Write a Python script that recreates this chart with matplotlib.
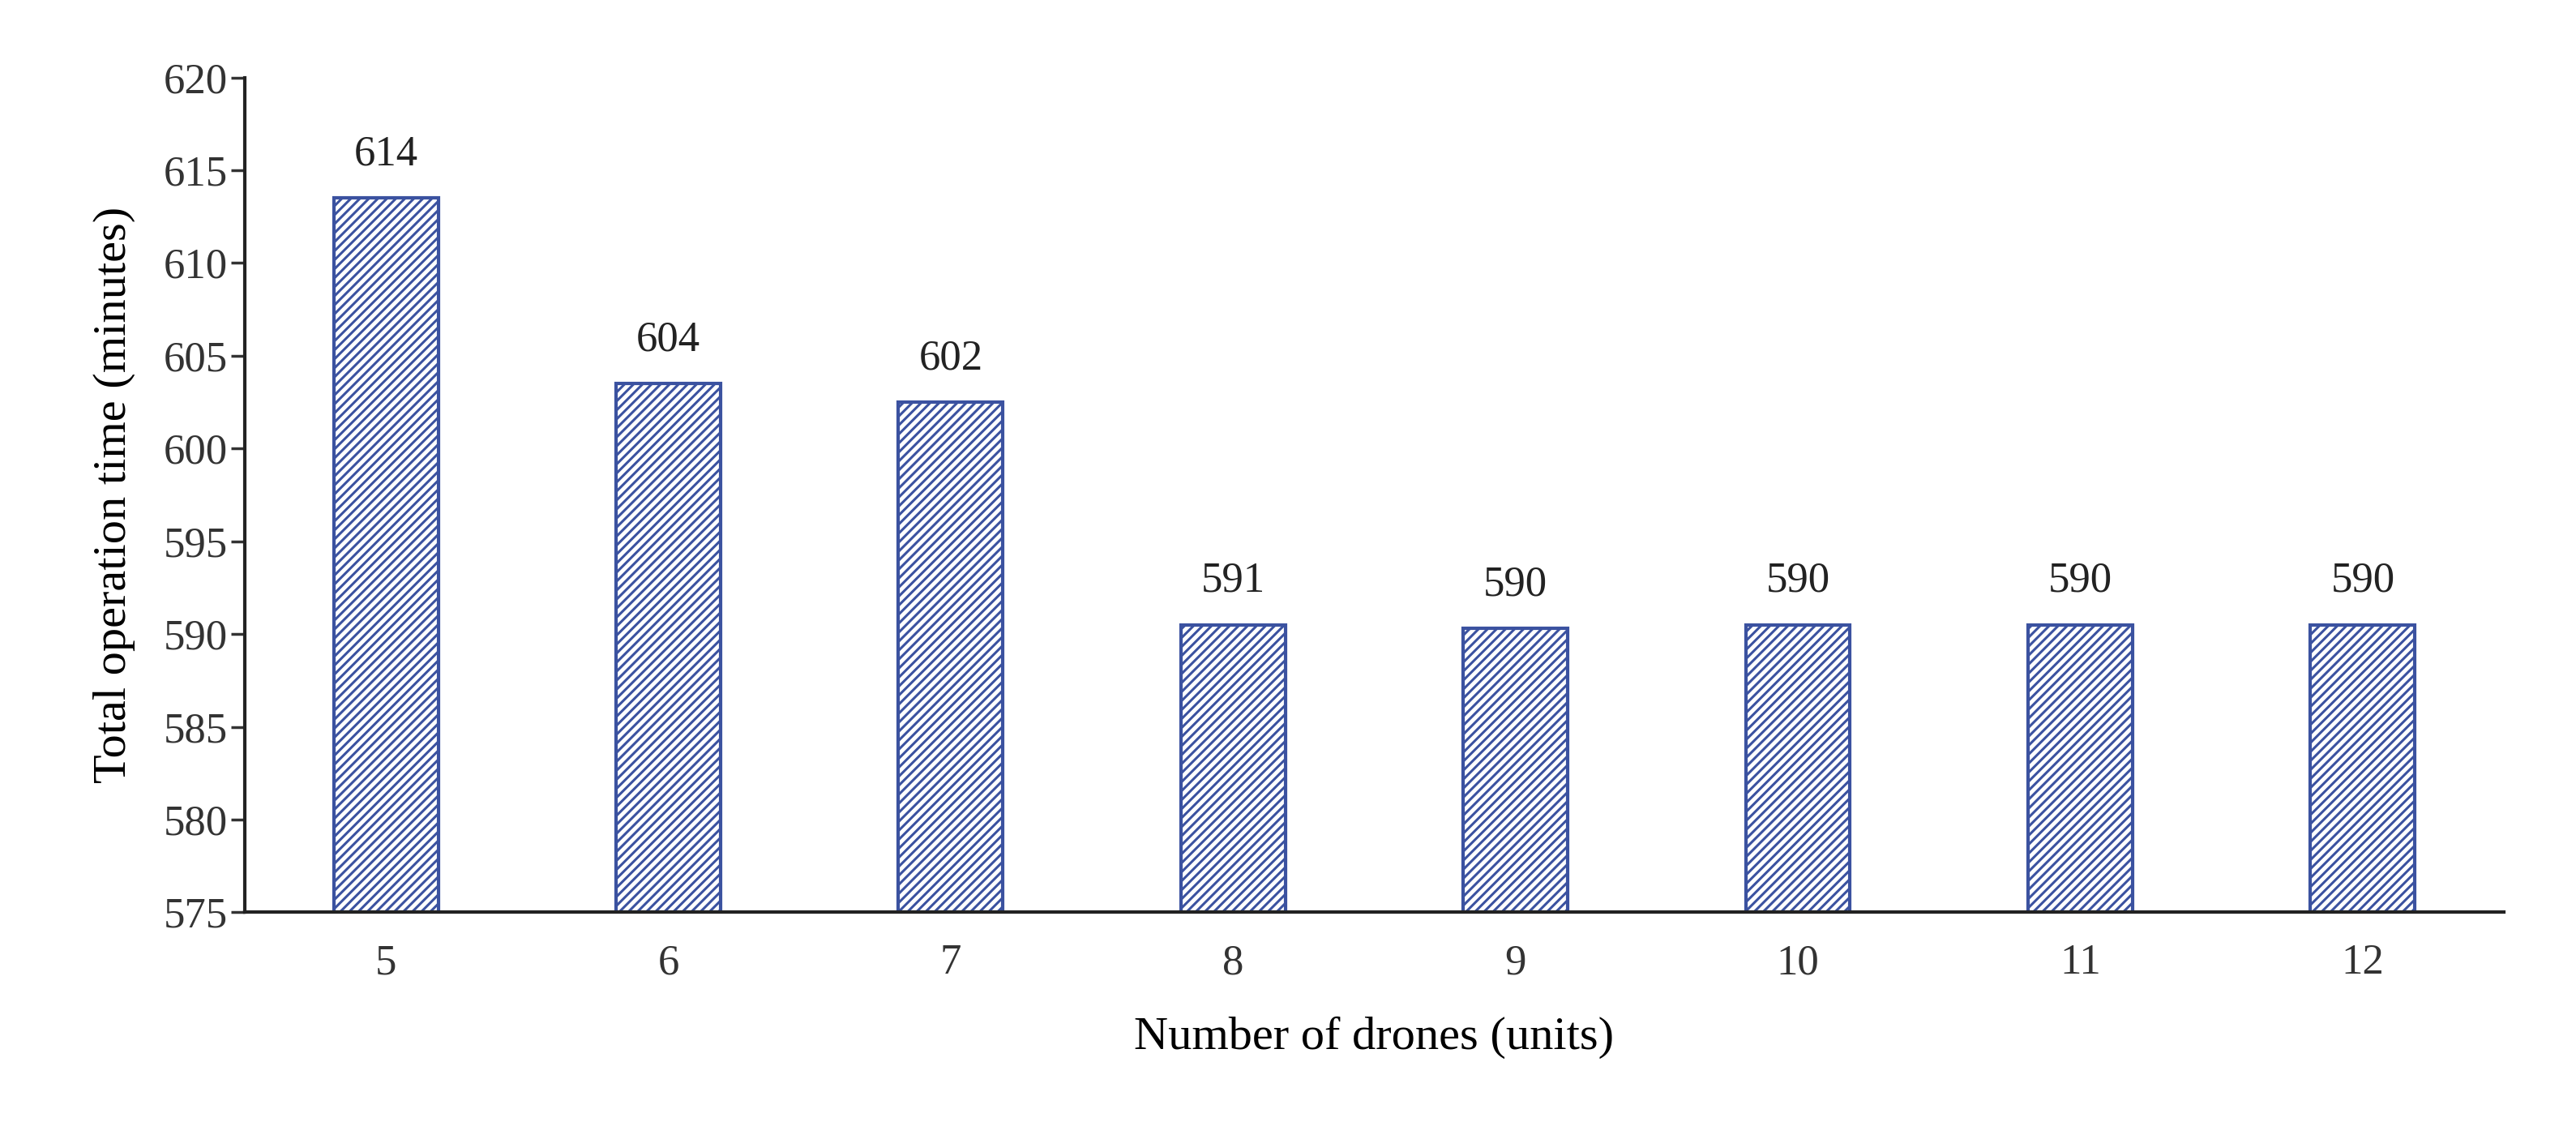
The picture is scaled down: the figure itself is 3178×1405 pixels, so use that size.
import matplotlib
matplotlib.use('Agg')
import matplotlib.pyplot as plt

drones = ['5', '6', '7', '8', '9', '10', '11', '12']
heights = [613.5, 603.5, 602.5, 590.5, 590.3, 590.5, 590.5, 590.5]
labels = ['614', '604', '602', '591', '590', '590', '590', '590']
yticks = list(range(575, 621, 5))

plt.rcParams['font.family'] = ['Liberation Serif', 'DejaVu Serif']
plt.rcParams['hatch.linewidth'] = 2.2
plt.rcParams['hatch.color'] = '#6477b8'

fig = plt.figure(figsize=(31.78, 14.05), dpi=100)
ax = fig.add_axes([0.095, 0.199, 0.877, 0.733])

x = range(len(drones))
ax.bar(x, [h - 575 for h in heights], bottom=575, width=0.37, color='white',
       edgecolor='#3b52a0', linewidth=3, hatch='///')
for xi, h, lab in zip(x, heights, labels):
    ax.text(xi, h + 1.3, lab, ha='center', va='bottom', fontsize=38, color='#222222')

ax.set_xlim(-0.5, len(drones) - 0.5)
ax.set_ylim(575, 620)
ax.set_yticks(yticks)
ax.set_xticks(list(x))
ax.set_xticklabels(drones)
ax.tick_params(axis='both', labelsize=38, colors='#333333', length=12, width=2.5)
ax.tick_params(axis='x', length=0, pad=28)
for s in ['top', 'right']:
    ax.spines[s].set_visible(False)
for s in ['left', 'bottom']:
    ax.spines[s].set_linewidth(3)
    ax.spines[s].set_color('#222222')

ax.set_xlabel('Number of drones (units)', fontsize=42, labelpad=30)
ax.set_ylabel('Total operation time (minutes)', fontsize=42, labelpad=25)

fig.savefig('out.png', dpi=100)
